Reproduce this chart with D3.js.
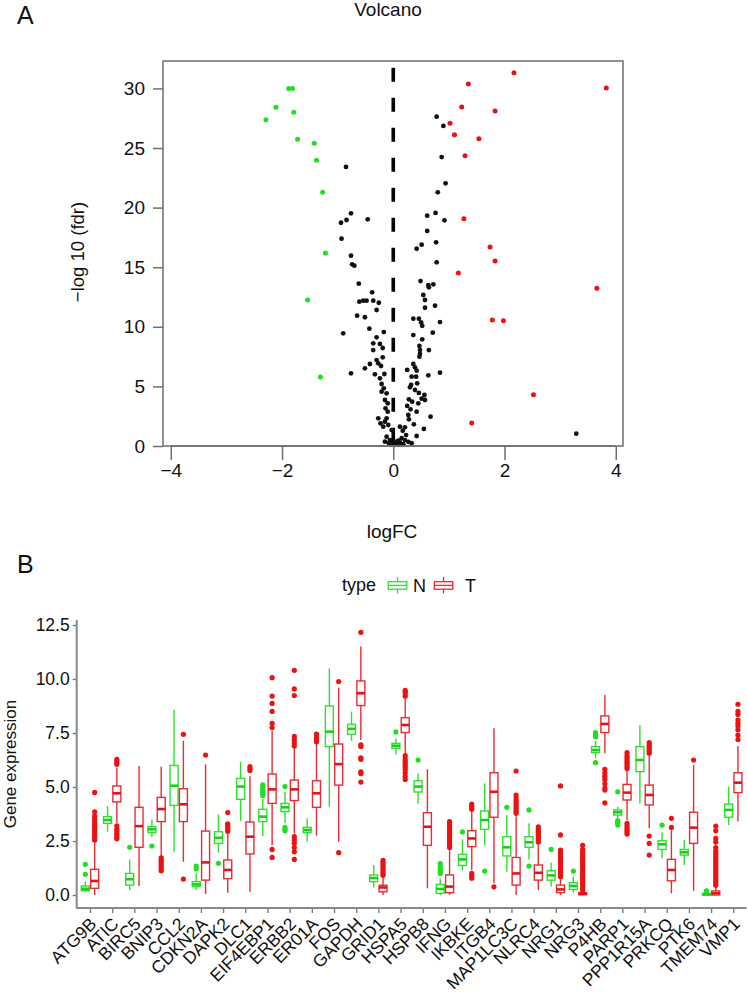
<!DOCTYPE html>
<html><head><meta charset="utf-8">
<script src="https://cdn.jsdelivr.net/npm/d3@7"></script>
<style>body{margin:0;background:#fff;} text{font-family:"Liberation Sans",Arial,Helvetica,sans-serif;fill:#111;}</style>
</head><body><svg id="c" width="748" height="992"></svg>
<script>
// ---------- Panel A data ----------
const volcanoXTicks = [-4, -2, 0, 2, 4];
const volcanoYTicks = [0, 5, 10, 15, 20, 25, 30];
const downPoints = [[-2.29,27.37],[-2.11,28.41],[-1.88,30.0],[-1.81,30.0],[-1.79,28.0],[-1.72,25.73],[-1.42,25.4],[-1.38,23.97],[-1.27,21.28],[-1.22,16.19],[-1.54,12.25],[-1.31,5.79]];
const upPoints = [[2.17,31.32],[1.35,30.37],[3.83,30.03],[1.23,28.44],[1.83,28.1],[1.02,27.07],[1.10,26.12],[1.54,25.78],[1.29,24.35],[1.27,19.07],[1.74,16.7],[1.83,15.52],[1.17,14.51],[3.66,13.23],[1.78,10.57],[1.98,10.51],[2.52,4.31],[1.41,1.93]];
const nsPoints = [[0.78,27.63],[0.90,26.85],[0.87,24.24],[0.94,22.04],[0.80,21.28],[0.61,19.32],[0.76,19.55],[0.92,18.93],[0.61,18.04],[0.77,17.09],[0.51,16.89],[0.42,16.55],[0.78,15.41],[0.49,13.84],[0.63,13.5],[0.72,13.56],[0.64,13.31],[0.54,12.67],[0.57,12.25],[0.75,11.77],[0.57,11.6],[0.36,10.68],[0.46,10.68],[0.50,10.38],[0.52,10.09],[0.84,10.40],[0.71,9.51],[0.36,9.31],[0.52,8.95],[0.47,8.39],[0.48,8.05],[0.48,7.72],[0.47,7.49],[0.64,8.05],[0.36,6.88],[0.39,6.6],[0.25,6.38],[0.42,6.32],[0.63,5.93],[0.84,6.15],[0.33,5.82],[0.41,5.82],[0.32,5.12],[0.43,5.26],[0.30,4.92],[0.39,4.70],[0.46,4.45],[0.56,4.28],[0.51,3.97],[0.57,3.86],[0.28,3.92],[0.34,3.72],[0.25,3.36],[0.45,3.58],[0.31,3.08],[0.42,2.88],[0.27,2.60],[0.67,2.46],[0.28,2.24],[0.37,1.82],[0.55,1.43],[0.21,1.57],[0.42,0.84],[0.33,0.23],[0.12,1.62],[0.17,1.28],[0.23,0.92],[0.15,0.65],[0.21,0.50],[0.09,0.45],[0.06,0.23],[0.12,0.28],[3.29,1.03],
[-0.85,23.41],[-0.76,19.52],[-0.84,18.96],[-0.94,18.73],[-0.46,19.02],[-0.93,17.39],[-0.76,15.97],[-0.74,15.24],[-0.70,15.13],[-0.62,13.62],[-0.38,12.89],[-0.61,12.11],[-0.54,12.19],[-0.48,12.19],[-0.36,12.19],[-0.26,12.02],[-0.30,11.41],[-0.65,10.93],[-0.51,10.80],[-0.43,9.84],[-0.90,9.45],[-0.17,9.56],[-0.30,9.12],[-0.36,8.61],[-0.24,8.56],[-0.19,8.22],[-0.36,8.05],[-0.19,7.44],[-0.30,7.21],[-0.27,6.94],[-0.42,6.88],[-0.22,6.71],[-0.51,6.52],[-0.76,6.10],[-0.33,6.01],[-0.16,6.04],[-0.24,5.68],[-0.21,5.20],[-0.17,4.84],[-0.21,4.56],[-0.12,4.42],[-0.15,3.86],[-0.10,3.58],[-0.14,3.16],[-0.10,2.88],[-0.27,2.32],[-0.12,2.32],[-0.15,2.04],[-0.23,1.90],[-0.09,1.76],[-0.18,1.62],[-0.03,1.34],[-0.12,0.78],[-0.06,0.50],[-0.15,0.36],[-0.01,0.23],[-0.08,0.23],
[0.02,0.10],[0.04,0.35],[-0.04,0.12],[0.10,0.12],[0.18,0.15],[0.27,0.35]];

// ---------- Panel B data ----------
const genes = ["ATG9B","ATIC","BIRC5","BNIP3","CCL2","CDKN2A","DAPK2","DLC1","EIF4EBP1","ERBB2","ER01A","FOS","GAPDH","GRID1","HSPA5","HSPB8","IFNG","IKBKE","ITGB4","MAP1LC3C","NLRC4","NRG1","NRG3","P4HB","PARP1","PPP1R15A","PRKCQ","PTK6","TMEM74","VMP1"];
const groups = ["N","T"];
const boxYTicks = [0, 2.5, 5, 7.5, 10, 12.5];
// [lower whisker, q1, median, q3, upper whisker]
const nStats = [[0.15,0.2,0.29,0.42,0.62],[2.93,3.32,3.47,3.63,4.12],[0.23,0.46,0.73,1.0,1.65],[2.67,2.89,3.04,3.16,3.5],[2.0,4.15,5.06,6.0,8.56],[0.23,0.39,0.49,0.62,1.0],[1.96,2.39,2.65,2.93,3.73],[3.43,4.43,5.02,5.4,6.17],[2.73,3.4,3.63,3.97,4.45],[3.32,3.86,4.06,4.24,4.78],[2.47,2.89,3.01,3.13,3.55],[4.09,6.87,7.56,8.75,10.49],[7.14,7.44,7.69,7.9,8.49],[0.35,0.62,0.79,0.93,1.39],[6.51,6.79,6.91,7.02,7.25],[4.24,4.77,5.02,5.29,5.63],[0.0,0.08,0.28,0.49,0.77],[1.13,1.37,1.65,1.88,2.58],[2.31,3.04,3.47,3.89,5.17],[1.08,1.81,2.21,2.7,3.7],[1.65,2.21,2.44,2.7,3.32],[0.39,0.69,0.91,1.13,1.5],[0.11,0.26,0.42,0.57,0.85],[6.33,6.59,6.71,6.87,7.13],[3.55,3.7,3.83,3.94,4.09],[4.24,5.71,6.25,6.87,7.87],[1.7,2.11,2.35,2.51,2.89],[1.39,1.85,1.98,2.11,2.55],[0.0,0.0,0.03,0.08,0.12],[3.24,3.6,3.94,4.21,5.02]];
const nOutliers = [[0.96,1.42],[],[2.21],[2.27],[],[1.22,1.34],[1.47],[],[4.6,4.7,4.8,4.9,5.0,5.1],[5.02,3.13,3.05,2.98],[],[],[],[],[7.55],[6.25],[1.0,1.1,1.2,1.3,1.45],[2.92],[1.11],[4.06],[3.94,1.34],[2.11],[1.11],[7.33,7.42,7.52,6.13],[4.78,3.44,3.35,3.24],[],[3.24],[],[0.19],[]];
const tStats = [[0.0,0.31,0.65,1.19,2.5],[3.35,4.31,4.71,5.05,5.9],[0.42,2.21,3.19,4.06,5.97],[1.8,3.4,3.98,4.52,5.94],[1.54,3.4,4.2,4.92,7.14],[0.05,0.69,1.51,2.96,6.05],[0.11,0.76,1.16,1.62,2.85],[0.15,1.9,2.7,3.38,5.5],[2.3,4.24,4.89,5.6,7.6],[2.85,4.37,4.89,5.32,6.8],[2.75,4.06,4.71,5.29,7.0],[2.47,5.09,6.06,6.99,9.6],[7.18,8.77,9.34,9.91,11.5],[0.0,0.15,0.35,0.45,0.85],[6.55,7.52,7.87,8.21,9.1],[0.31,2.3,3.16,3.81,5.82],[0.0,0.11,0.39,0.93,2.1],[1.16,2.24,2.62,2.98,3.9],[0.55,3.6,4.78,5.66,7.72],[0.0,0.46,1.0,1.74,3.65],[0.23,0.69,1.03,1.39,2.35],[0.0,0.11,0.26,0.46,0.8],[0.0,0.02,0.05,0.11,0.14],[6.56,7.52,7.92,8.29,9.26],[3.47,4.4,4.74,5.12,5.8],[3.09,4.17,4.63,5.09,6.45],[0.08,0.66,1.16,1.65,3.0],[0.19,2.39,3.12,3.83,6.02],[0.0,0.0,0.08,0.19,0.4],[3.4,4.74,5.2,5.66,6.9]];
const tOutliers = [[2.55,2.65,2.75,2.85,2.95,3.05,3.15,3.25,3.35,3.5,3.65,3.85,4.75],
[6.05,6.12,6.2,6.28,3.2,3.05,2.95,2.85,2.75,2.65,2.6],
[],
[1.72,1.6,1.5,1.4,1.3,1.2,1.12],
[7.44,0.74],
[6.48],
[2.95,3.05,3.15,3.25,3.3,3.82],
[5.76,5.85,5.94],
[7.75,7.95,8.5,8.87,9.21,10.06,2.11,1.74],
[6.9,7.05,7.2,7.35,9.23,9.54,10.4,2.7,2.55,2.4,2.2,2.0,1.65],
[7.1,7.2,7.3,7.45],
[9.88,1.96],
[12.16,6.95,6.88,6.35,6.28,5.7,5.62,5.23],
[0.92,1.0,1.1,1.2,1.3,1.4,1.5,1.6],
[9.2,9.3,9.4,9.47,6.45,6.3,6.2,6.1,6.0,5.9,5.8,5.65,5.5,5.35],
[],
[2.2,2.3,2.4,2.5,2.6,2.7,2.8,2.9,3.0,3.1,3.2,3.3,3.4],
[3.97,4.05,4.13,4.21,1.0,0.88,0.78],
[0.38],
[3.78,3.88,3.98,4.08,4.18,4.28,4.38,4.5,4.63,5.74],
[2.45,2.55,2.65,2.75,2.85,2.95,3.05,3.16],
[0.85,0.95,1.05,1.15,1.25,1.35,1.45,1.55,1.65,1.75,1.85,1.95,2.08,2.78,5.05],
[0.2,0.3,0.4,0.5,0.6,0.7,0.8,0.9,1.0,1.1,1.2,1.3,1.4,1.5,1.6,1.7,1.8,1.9,2.0,2.1,2.3],
[5.82,5.65,5.5,5.35,5.15,4.95,4.86,4.27],
[5.86,5.95,6.05,6.15,6.25,6.35,6.45,6.59,3.32,3.2,3.1,3.0,2.9,2.82],
[6.56,6.65,6.75,6.85,6.95,7.05,2.73,2.39,1.85],
[3.13,3.55],
[6.25],
[0.45,0.55,0.65,0.75,0.85,0.95,1.05,1.15,1.25,1.35,1.45,1.55,1.65,1.75,1.85,1.95,2.05,2.2,2.45,2.62,2.98,3.19],
[7.2,7.4,7.65,7.82,7.95,8.1,8.36,8.5,8.83]];

// ---------- drawing ----------
const svg = d3.select("#c");
svg.append("rect").attr("width",748).attr("height",992).attr("fill","#fff");
const GREY = "#6e6e6e";
const GREEN_PT = "#1fe01f", RED_PT = "#ee1111";

// Panel A
const xA = d3.scaleLinear().domain([-4.14, 4.13]).range([163, 623]);
const yA = d3.scaleLinear().domain([0, 32.3]).range([446, 61]);
const gA = svg.append("g");
gA.append("text").attr("x",17).attr("y",24).attr("font-size",25).text("A");
gA.append("text").attr("x",388).attr("y",16).attr("text-anchor","middle").attr("font-size",19).text("Volcano");

gA.append("line").attr("x1",xA(0)).attr("x2",xA(0)).attr("y1",67.7).attr("y2",yA(0))
  .attr("stroke","#000").attr("stroke-width",3.6).attr("stroke-dasharray","14,16");

gA.selectAll("circle.ns").data(nsPoints).join("circle").attr("class","ns")
  .attr("cx",d=>xA(d[0])).attr("cy",d=>yA(d[1])).attr("r",2.4).attr("fill","#111");
gA.selectAll("circle.dn").data(downPoints).join("circle").attr("class","dn")
  .attr("cx",d=>xA(d[0])).attr("cy",d=>yA(d[1])).attr("r",2.5).attr("fill",GREEN_PT);
gA.selectAll("circle.up").data(upPoints).join("circle").attr("class","up")
  .attr("cx",d=>xA(d[0])).attr("cy",d=>yA(d[1])).attr("r",2.5).attr("fill",RED_PT);

gA.append("rect").attr("x",163).attr("y",61).attr("width",460).attr("height",385)
  .attr("fill","none").attr("stroke",GREY).attr("stroke-width",1.5);

const axAx = gA.append("g").attr("transform","translate(0,446)")
  .call(d3.axisBottom(xA).tickValues(volcanoXTicks).tickSize(14).tickPadding(4).tickSizeOuter(0));
const axAy = gA.append("g").attr("transform","translate(163,0)")
  .call(d3.axisLeft(yA).tickValues(volcanoYTicks).tickSize(10).tickPadding(8).tickSizeOuter(0));
[axAx, axAy].forEach(a=>{
  a.select(".domain").remove();
  a.selectAll(".tick line").attr("stroke",GREY).attr("stroke-width",1.5);
  a.selectAll(".tick text").attr("font-size",19).attr("fill","#111").attr("font-family","Liberation Sans, Arial, sans-serif");
});
gA.append("line").attr("x1",xA(-4)).attr("x2",xA(4)).attr("y1",446).attr("y2",446).attr("stroke",GREY).attr("stroke-width",1.5);
gA.append("text").attr("x",392).attr("y",538).attr("text-anchor","middle").attr("font-size",19).text("logFC");
gA.append("text").attr("transform","translate(84,252) rotate(-90)").attr("text-anchor","middle").attr("font-size",18.5).text("\u2212log 10 (fdr)");

// Panel B
const xB = d3.scalePoint().domain(genes).range([76.7, 746.6]).padding(0.6);
const yB = d3.scaleLinear().domain([-0.6, 12.73]).range([908, 620]);
const step = xB.step();
const colors = {N:{line:"#2ee02e", med:"#13d313", pt:"#1fe01f"}, T:{line:"#ec2a34", med:"#e8101c", pt:"#ee1111"}};
const gB = svg.append("g");
gB.append("text").attr("x",17).attr("y",573).attr("font-size",25).text("B");

const boxes = [];
genes.forEach((g,i)=>{
  boxes.push({gene:g, grp:"N", s:nStats[i], out:nOutliers[i]});
  boxes.push({gene:g, grp:"T", s:tStats[i], out:tOutliers[i]});
});
const off = 0.21*step, bw = 0.36*step;
const bx = d => xB(d.gene) + (d.grp==="N" ? -off : off);
const bg = gB.selectAll("g.box").data(boxes).join("g").attr("class","box");
bg.append("line").attr("x1",bx).attr("x2",bx).attr("y1",d=>yB(d.s[0])).attr("y2",d=>yB(d.s[1]))
  .attr("stroke",d=>colors[d.grp].line).attr("stroke-width",1.4);
bg.append("line").attr("x1",bx).attr("x2",bx).attr("y1",d=>yB(d.s[3])).attr("y2",d=>yB(d.s[4]))
  .attr("stroke",d=>colors[d.grp].line).attr("stroke-width",1.4);
bg.append("rect").attr("x",d=>bx(d)-bw/2).attr("width",bw)
  .attr("y",d=>yB(d.s[3])).attr("height",d=>Math.max(0.5,yB(d.s[1])-yB(d.s[3])))
  .attr("fill","#fff").attr("stroke",d=>colors[d.grp].line).attr("stroke-width",1.4);
bg.append("line").attr("x1",d=>bx(d)-bw/2).attr("x2",d=>bx(d)+bw/2).attr("y1",d=>yB(d.s[2])).attr("y2",d=>yB(d.s[2]))
  .attr("stroke",d=>colors[d.grp].med).attr("stroke-width",2.6);
bg.each(function(d){
  d3.select(this).selectAll("circle").data(d.out).join("circle")
    .attr("cx",bx(d)).attr("cy",v=>yB(v)).attr("r",2.6).attr("fill",colors[d.grp].pt);
});

const axBy = gB.append("g").attr("transform","translate(76.7,0)")
  .call(d3.axisLeft(yB).tickValues(boxYTicks).tickFormat(d3.format(".1f")).tickSize(4).tickPadding(3).tickSizeOuter(0));
const axBx = gB.append("g").attr("transform","translate(0,908)")
  .call(d3.axisBottom(xB).tickSize(5).tickSizeOuter(0));
[axBx, axBy].forEach(a=>{
  a.select(".domain").remove();
  a.selectAll(".tick line").attr("stroke","#777").attr("stroke-width",1.3);
  a.selectAll(".tick text").attr("font-size",17.5).attr("fill","#222").attr("font-family","Liberation Sans, Arial, sans-serif");
});
axBx.selectAll(".tick text").attr("text-anchor","end").attr("dy",null).attr("y",null)
  .attr("transform","translate(7,17) rotate(-45)");
gB.append("path").attr("d","M76.7,620V908H746.6").attr("fill","none").attr("stroke","#888").attr("stroke-width",2);
gB.append("text").attr("transform","translate(15.5,764) rotate(-90)").attr("text-anchor","middle").attr("font-size",17).text("Gene expression");

// legend
const lg = gB.append("g");
lg.append("text").attr("x",342).attr("y",591).attr("font-size",18).text("type");
const legendItems = [{k:"N", x:388.3, tx:413}, {k:"T", x:434.3, tx:465}];
legendItems.forEach(it=>{
  const c = colors[it.k].line;
  lg.append("rect").attr("x",it.x).attr("y",581.7).attr("width",18.5).attr("height",7.5).attr("fill","#fff").attr("stroke",c).attr("stroke-width",1.3);
  lg.append("line").attr("x1",it.x).attr("x2",it.x+18.5).attr("y1",585.4).attr("y2",585.4).attr("stroke",c).attr("stroke-width",1.3);
  lg.append("line").attr("x1",it.x+9.25).attr("x2",it.x+9.25).attr("y1",577).attr("y2",581.7).attr("stroke",c).attr("stroke-width",1.3);
  lg.append("line").attr("x1",it.x+9.25).attr("x2",it.x+9.25).attr("y1",589.2).attr("y2",593.5).attr("stroke",c).attr("stroke-width",1.3);
  lg.append("text").attr("x",it.tx).attr("y",591.5).attr("font-size",18).text(it.k);
});
</script></body></html>
